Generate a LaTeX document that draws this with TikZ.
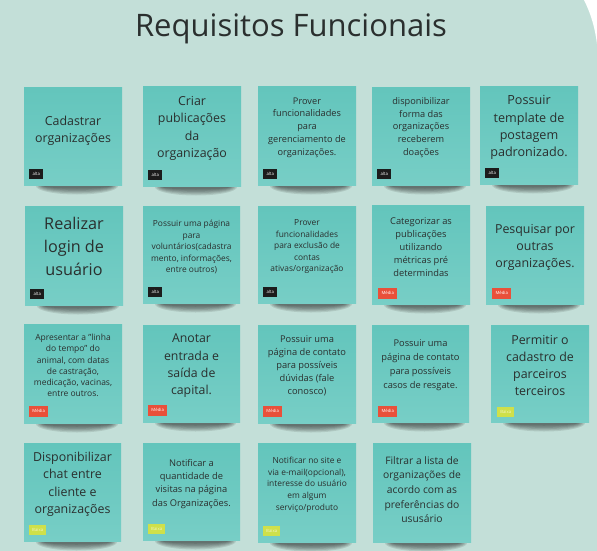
\documentclass[tikz,border=0pt]{standalone}
\usepackage{fontspec}
\setmainfont{Open Sans}
\definecolor{bg}{HTML}{C3DFD8}
\definecolor{notetop}{HTML}{63C5BC}
\definecolor{notebot}{HTML}{77CEC6}
\definecolor{ink}{HTML}{2A2F2E}
\definecolor{altac}{HTML}{1C1C1C}
\definecolor{mediac}{HTML}{E9503A}
\definecolor{baixac}{HTML}{CFE04A}
\definecolor{baixat}{HTML}{F2F6C8}
\tikzset{
  notebox/.style={top color=notetop, bottom color=notebot, draw=none, inner sep=0pt},
  notetext/.style={align=center, text=ink, inner sep=0pt},
  tagbase/.style={inner sep=0pt, anchor=south west, font={\fontsize{4.3}{5}\selectfont}},
  tagalta/.style={tagbase, fill=altac, text=white, minimum width=14pt, minimum height=9.5pt, node contents={alta}},
  tagmedia/.style={tagbase, fill=mediac, text=white, minimum width=19pt, minimum height=11pt, node contents={Média}},
  tagbaixa/.style={tagbase, fill=baixac, text=baixat, minimum width=17pt, minimum height=10pt, node contents={Baixa}},
}
% #1 name, #2 x1, #3 y1, #4 x2, #5 y2, #6 font, #7 text, #8 text centre offset
\newcommand\stickynote[8]{%
  \foreach \k in {0,...,5}{%
    \fill[black,opacity=0.1] ({(#2+#4)/2+4},{#5+1}) ellipse ({(#4-#2)/2-8-\k*1.5} and {8.5-\k*1.2});}
  \node[notebox, anchor=north west, minimum width={(#4-#2)*1pt}, minimum height={(#5-#3)*1pt}] (#1) at (#2,#3) {};
  \node[notetext, font=#6] (#1-text) at ({(#2+#4)/2},{#3+#8}) {#7};
}
\newcommand\fs[2]{\fontsize{#1}{#2}\selectfont}
\begin{document}
\begin{tikzpicture}[x=1pt,y=-1pt]
\useasboundingbox (0,0) rectangle (597,551);
\fill[bg] (0,0) rectangle (597,551);
\fill[white] (584,0) .. controls (591,14) and (595,28) .. (597,44) -- (597,0) -- cycle;
\node[anchor=base, text=ink, font=\fs{31}{36}] (title) at (291,37) {Requisitos Funcionais};

% Row 1
\stickynote{n11}{24}{87}{122}{185}{\fs{12.4}{17}}{Cadastrar\\organizações}{43.5}
\node (t11) at ({24+5},{185-6}) [tagalta];
\stickynote{n12}{143}{86}{241}{186}{\fs{12.4}{17.2}}{Criar\\publicações\\da\\organização}{42.5}
\node (t12) at ({143+5},{186-6}) [tagalta];
\stickynote{n13}{258}{86}{356}{185}{\fs{9.2}{12.7}}{Prover\\funcionalidades\\para\\gerenciamento de\\organizações.}{41.5}
\node (t13) at ({258+5},{185-6}) [tagalta];
\stickynote{n14}{372}{87}{470}{185}{\fs{9.2}{12.7}}{disponibilizar\\forma das\\organizações\\receberem\\doações}{40.5}
\node (t14) at ({372+5},{185-6}) [tagalta];
\stickynote{n15}{480}{86}{578}{184}{\fs{12.6}{17.2}}{Possuir\\template de\\postagem\\padronizado.}{41.5}
\node (t15) at ({480+5},{184-6}) [tagalta];

% Row 2
\stickynote{n21}{25}{206}{123}{305}{\fs{16.2}{23}}{Realizar\\login de\\usuário}{40}
\node (t21) at ({25+5},{305-6}) [tagalta];
\stickynote{n22}{143}{206}{240}{303}{\fs{8.4}{11.5}}{Possuir uma página\\para\\voluntários(cadastra\\mento, informações,\\entre outros)}{41}
\node (t22) at ({143+5},{303-6}) [tagalta];
\stickynote{n23}{258}{206}{356}{303}{\fs{8.4}{11.5}}{Prover\\funcionalidades\\para exclusão de\\contas\\ativas/organização}{41}
\node (t23) at ({258+5},{303-6}) [tagalta];
\stickynote{n24}{372}{205}{470}{304}{\fs{9.3}{12.9}}{Categorizar as\\publicações\\utilizando\\métricas pré\\determindas}{42}
\node (t24) at ({372+6},{304-5}) [tagmedia];
\stickynote{n25}{486}{206}{584}{304}{\fs{12.4}{17}}{Pesquisar por\\outras\\organizações.}{41.3}
\node (t25) at ({486+6},{304-5}) [tagmedia];

% Row 3
\stickynote{n31}{24}{324}{122}{423}{\fs{8.5}{11.3}}{Apresentar a "linha\\do tempo" do\\animal, com datas\\de castração,\\medicação, vacinas,\\entre outros.}{41.5}
\node (t31) at ({24+5},{423-6}) [tagmedia];
\stickynote{n32}{143}{325}{240}{422}{\fs{12.3}{17.4}}{Anotar\\entrada e\\saída de\\capital.}{40.8}
\node (t32) at ({143+5},{422-6}) [tagmedia];
\stickynote{n33}{258}{325}{356}{423}{\fs{9.3}{12.9}}{Possuir uma\\página de contato\\para possíveis\\dúvidas (fale\\conosco)}{40.8}
\node (t33) at ({258+5},{423-6}) [tagmedia];
\stickynote{n34}{372}{325}{469}{422}{\fs{9.3}{13.9}}{Possuir uma\\página de contato\\para possíveis\\casos de resgate.}{40.5}
\node (t34) at ({372+6},{422-5}) [tagmedia];
\stickynote{n35}{491}{325}{589}{422}{\fs{12.4}{17.2}}{Permitir o\\cadastro de\\parceiros\\terceiros}{40.5}
\node (t35) at ({491+6},{422-5}) [tagbaixa];

% Row 4
\stickynote{n41}{24}{443}{121}{541}{\fs{12.4}{17.1}}{Disponibilizar\\chat entre\\cliente e\\organizações}{41.3}
\node (t41) at ({24+5},{541-6}) [tagbaixa];
\stickynote{n42}{143}{443}{240}{540}{\fs{9.3}{13.1}}{Notificar a\\quantidade de\\visitas na página\\das Organizações.}{41}
\node (t42) at ({143+5},{540-6}) [tagbaixa];
\stickynote{n43}{258}{443}{356}{542}{\fs{8.4}{11.7}}{Notificar no site e\\via e-mail(opcional),\\interesse do usuário\\em algum\\serviço/produto}{41.5}
\node (t43) at ({258+5},{542-6}) [tagbaixa];
\stickynote{n44}{373}{443}{471}{542}{\fs{10.3}{14.6}}{Filtrar a lista de\\organizações de\\acordo com as\\preferências do\\ususário}{46.6}
\end{tikzpicture}
\end{document}
